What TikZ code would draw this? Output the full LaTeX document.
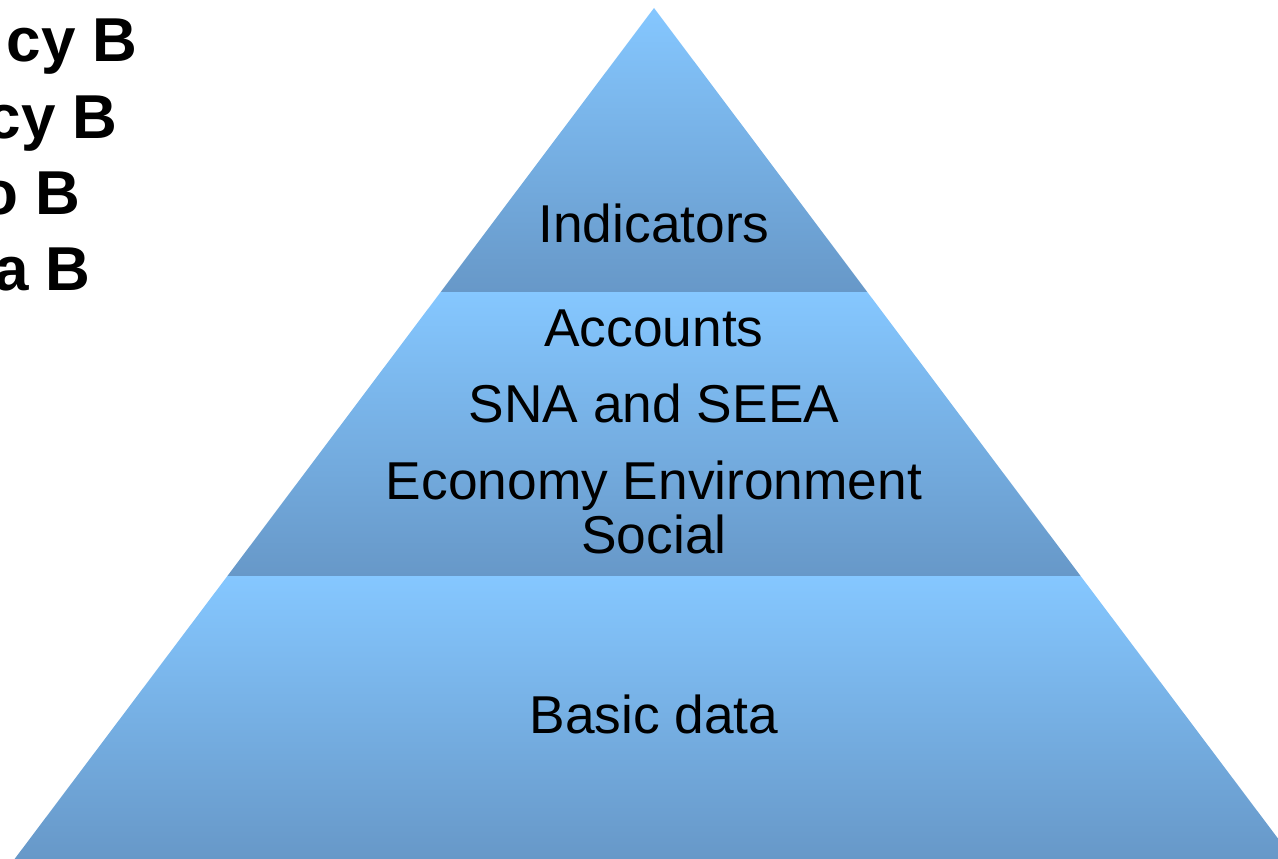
\documentclass[tikz,border=0pt]{standalone}
\usepackage{fontspec}
\setmainfont{Liberation Sans}
\definecolor{lightblue}{RGB}{133,199,255}
\definecolor{darkblue}{RGB}{103,152,200}
\tikzset{
  band/.style={top color=lightblue, bottom color=darkblue, draw=none},
  label/.style={anchor=base, inner sep=0pt, font=\fontsize{53.3}{53.3}\selectfont},
  sidetext/.style={anchor=base east, inner sep=0pt, font=\fontsize{62}{62}\selectfont\bfseries}
}
\begin{document}
\begin{tikzpicture}[x=1pt,y=-1pt]
\useasboundingbox (0,0) rectangle (1278,859);
\begin{scope}
\clip (0,0) rectangle (1278,859);
% pyramid bands
\path[band] (654,8) -- (867.3,292) -- (440.7,292) -- cycle;
\path[band] (440.7,292) -- (867.3,292) -- (1080.6,576) -- (227.4,576) -- cycle;
\path[band] (227.4,576) -- (1080.6,576) -- (1293.4,859) -- (14.6,859) -- cycle;
% left cut-off text
\node[sidetext] (s1) at (138,62) {cy B};
\node[sidetext] (s2) at (118,138) {cy B};
\node[sidetext] (s3) at (81,214) {o B};
\node[sidetext] (s4) at (91,290) {a B};
\end{scope}
% labels
\node[label] (ind) at (654,242) {Indicators};
\node[label] (acc) at (654,346) {Accounts};
\node[label] (sna) at (654,422) {SNA and SEEA};
\node[label] (eco) at (654,499) {Economy Environment};
\node[label] (soc) at (654,553) {Social};
\node[label] (bas) at (654,733) {Basic data};
\end{tikzpicture}
\end{document}
